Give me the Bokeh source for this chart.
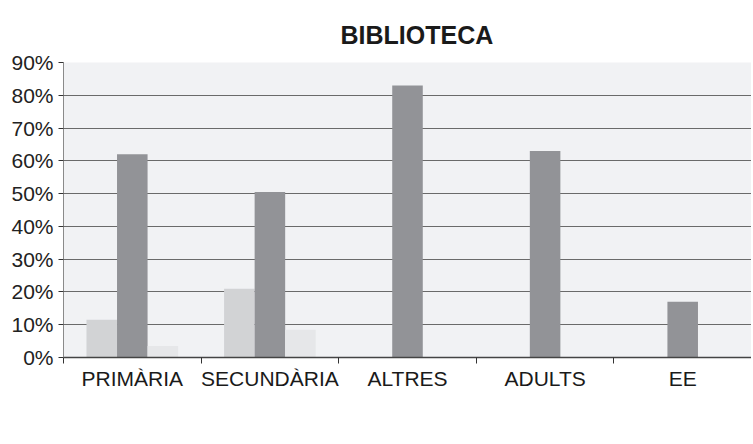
from bokeh.plotting import figure
from bokeh.models import (ColumnDataSource, Range1d, LinearAxis,
                          FixedTicker, NumeralTickFormatter, Legend, LegendItem, Title)
from bokeh.transform import dodge
from bokeh.embed import file_html
from bokeh.resources import INLINE

categories = ["PRIMÀRIA", "SECUNDÀRIA", "ALTRES", "ADULTS", "EE"]
ampa = [0.115, 0.21, 0.0, 0.0, 0.0]
direccio = [0.62, 0.505, 0.83, 0.63, 0.17]
altres = [0.035, 0.085, 0.0, 0.0, 0.0]
y_ticks = [0.0, 0.1, 0.2, 0.3, 0.4, 0.5, 0.6, 0.7, 0.8, 0.9]

FONT = "Liberation Sans"
pos = [i + 0.5 for i in range(len(categories))]
bounds = list(range(len(categories) + 1))
src = ColumnDataSource(dict(pos=pos, cat=categories, ampa=ampa, direccio=direccio, altres=altres))

p = figure(x_range=Range1d(0, len(categories)), y_range=Range1d(0, 0.9),
           frame_width=688, frame_height=295, output_backend="svg", toolbar_location=None,
           x_axis_location=None, y_axis_location=None,
           min_border_left=63, min_border_right=0, min_border_top=62, min_border_bottom=87)
p.background_fill_color = "#f1f2f4"
p.border_fill_color = "white"
p.outline_line_color = None

p.title = Title(text="BIBLIOTECA", align="left", offset=277, standoff=28, text_font=FONT,
                text_font_size="25px", text_font_style="bold", text_color="#1a1a1a")

w = 0.222
r1 = p.vbar(x=dodge("pos", -w), top="ampa", width=w, source=src,
            fill_color="#d2d3d5", line_color=None)
r2 = p.vbar(x=dodge("pos", 0), top="direccio", width=w, source=src,
            fill_color="#929397", line_color=None)
r3 = p.vbar(x=dodge("pos", w), top="altres", width=w, source=src,
            fill_color="#e6e7e9", line_color=None)

# y axis
yax = LinearAxis(ticker=FixedTicker(ticks=y_ticks), formatter=NumeralTickFormatter(format="0%"))
yax.axis_line_color = "#8a8a8a"
yax.major_tick_line_color = "#333333"
yax.major_tick_in = 0
yax.major_tick_out = 5
yax.minor_tick_line_color = None
yax.major_label_text_font = FONT
yax.major_label_text_font_size = "21px"
yax.major_label_text_color = "#222222"
yax.major_label_standoff = 5
p.add_layout(yax, "left")

# x axis: labels at category centres, ticks at category boundaries
xax = LinearAxis(ticker=FixedTicker(ticks=pos, minor_ticks=bounds),
                 major_label_overrides={x: c for x, c in zip(pos, categories)})
xax.axis_line_color = "#444444"
xax.axis_line_width = 1.5
xax.major_tick_line_color = None
xax.major_tick_in = 0
xax.major_tick_out = 0
xax.minor_tick_line_color = "#333333"
xax.minor_tick_in = 0
xax.minor_tick_out = 6
xax.major_label_text_font = FONT
xax.major_label_text_font_size = "21px"
xax.major_label_text_color = "#1a1a1a"
xax.major_label_standoff = 3
p.add_layout(xax, "below")

p.xgrid.grid_line_color = None
p.ygrid.ticker = FixedTicker(ticks=y_ticks[1:])
p.ygrid.grid_line_color = "#6a6a6a"
p.ygrid.grid_line_width = 1.2

legend = Legend(items=[LegendItem(label="ampa", renderers=[r1]),
                       LegendItem(label="direcció", renderers=[r2]),
                       LegendItem(label="altres", renderers=[r3])],
                orientation="horizontal", location=(200, -4))
legend.label_text_font = FONT
legend.label_text_font_size = "21px"
legend.label_text_color = "#1a1a1a"
legend.glyph_width = 14
legend.glyph_height = 14
legend.label_standoff = 5
legend.spacing = 12
legend.padding = 6
legend.margin = 0
legend.border_line_color = "#444444"
legend.border_line_width = 1
legend.background_fill_color = "white"
p.add_layout(legend, "below")

open("out.html", "w").write(file_html(p, INLINE))
